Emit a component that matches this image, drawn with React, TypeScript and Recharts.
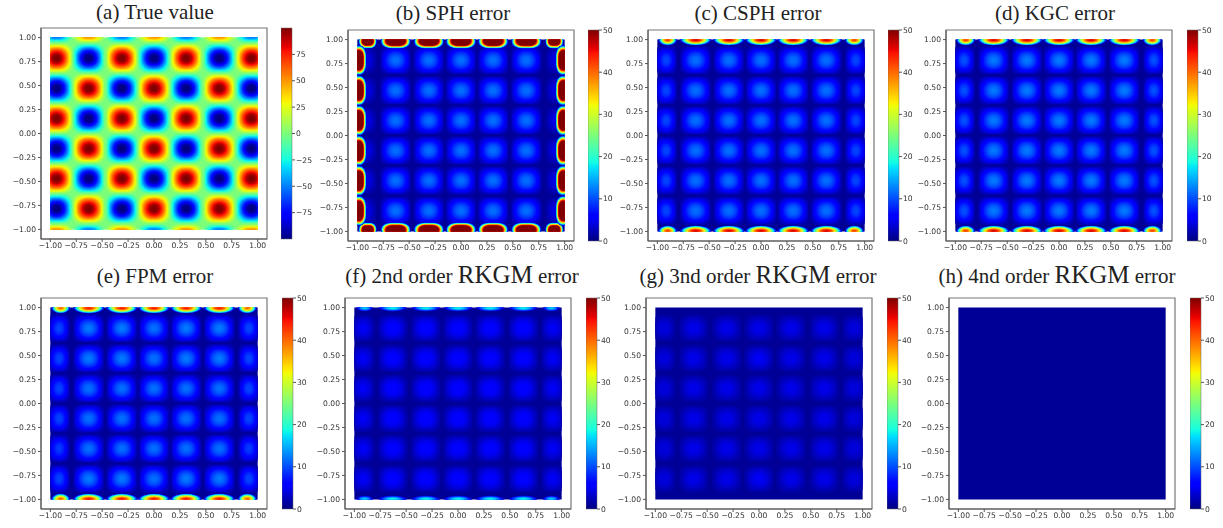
import React from "react";
import {
  ScatterChart,
  Scatter,
  XAxis,
  YAxis,
  ReferenceArea,
  BarChart,
  Bar,
} from "recharts";

// blob centres
const columnCentres = [-0.94, -0.63, -0.31, 0, 0.31, 0.63, 0.94];
const errorColumns = [-0.915, -0.63, -0.31, 0, 0.31, 0.63, 0.915];
const rowCentres = [0.785, 0.47, 0.157, -0.157, -0.47, -0.785];
const edgeColumns = [-0.9, -0.63, -0.31, 0, 0.31, 0.63, 0.9];
const outsideRows = [1.1, -1.1];

const axisTicks = [-1, -0.75, -0.5, -0.25, 0, 0.25, 0.5, 0.75, 1];
const trueTicks = [-75, -50, -25, 0, 25, 50, 75];
const errorTicks = [0, 10, 20, 30, 40, 50];

const truePeaks = [
  [-106, 106, -106, 106, -106, 106, -106],
  [106, -106, 106, -106, 106, -106, 106],
  [-106, 106, -106, 106, -106, 106, -106],
  [106, -106, 106, -106, 106, -106, 106],
  [-106, 106, -106, 106, -106, 106, -106],
  [106, -106, 106, -106, 106, -106, 106],
  [-106, 106, -106, 106, -106, 106, -106],
  [106, -106, 106, -106, 106, -106, 106],
];
const sphPeaks = [
  [5, 12, 12, 12, 12, 12, 5],
  [5, 12, 12, 12, 12, 12, 5],
  [5, 12, 12, 12, 12, 12, 5],
  [5, 12, 12, 12, 12, 12, 5],
  [5, 12, 12, 12, 12, 12, 5],
  [5, 12, 12, 12, 12, 12, 5],
];
const csphPeaks = [
  [10, 12, 12, 12, 12, 12, 10],
  [10, 12, 12, 12, 12, 12, 10],
  [10, 12, 12, 12, 12, 12, 10],
  [10, 12, 12, 12, 12, 12, 10],
  [10, 12, 12, 12, 12, 12, 10],
  [10, 12, 12, 12, 12, 12, 10],
];
const kgcPeaks = [
  [10.5, 12.5, 12.5, 12.5, 12.5, 12.5, 10.5],
  [10.5, 12.5, 12.5, 12.5, 12.5, 12.5, 10.5],
  [10.5, 12.5, 12.5, 12.5, 12.5, 12.5, 10.5],
  [10.5, 12.5, 12.5, 12.5, 12.5, 12.5, 10.5],
  [10.5, 12.5, 12.5, 12.5, 12.5, 12.5, 10.5],
  [10.5, 12.5, 12.5, 12.5, 12.5, 12.5, 10.5],
];
const fpmPeaks = [
  [10, 12.5, 12.5, 12, 12.5, 12.5, 10],
  [10, 12.5, 12.5, 12, 12.5, 12.5, 10],
  [10, 12, 12, 12, 12, 12, 10],
  [10, 12, 12, 12, 12, 12, 10],
  [9.5, 12, 12, 12, 12, 12, 9.5],
  [10, 12.5, 12.5, 12, 12.5, 12.5, 10],
];
const rk2Peaks = [
  [5.5, 6.5, 6.5, 6.5, 6.5, 6.5, 5.5],
  [5.5, 6.5, 6.5, 6.5, 6.5, 6.5, 5.5],
  [5.5, 6.5, 6.5, 6.5, 6.5, 6.5, 5.5],
  [5.5, 6.5, 6.5, 6.5, 6.5, 6.5, 5.5],
  [5.5, 6.5, 6.5, 6.5, 6.5, 6.5, 5.5],
  [5.5, 6.5, 6.5, 6.5, 6.5, 6.5, 5.5],
];
const rk3Peaks = [
  [4.5, 5, 5, 5, 5, 5, 4.5],
  [4.5, 5, 5, 5.5, 5, 5, 4.5],
  [4.5, 5, 5, 5, 5, 5, 4.5],
  [4.5, 5, 5, 5, 5, 5, 4.5],
  [4.5, 5, 5, 5, 5, 5, 4.5],
  [4.5, 5, 5, 5.5, 5, 5, 4.5],
];
const rk4Peaks = [
  [1.5, 1.5, 1.5, 1.5, 1.5, 1.5, 1.5],
  [1.5, 1.5, 1.5, 1.5, 1.5, 1.5, 1.5],
  [1.5, 1.5, 1.5, 1.5, 1.5, 1.5, 1.5],
  [1.5, 1.5, 1.5, 1.5, 1.5, 1.5, 1.5],
  [1.5, 1.5, 1.5, 1.5, 1.5, 1.5, 1.5],
  [1.5, 1.5, 1.5, 1.5, 1.5, 1.5, 1.5],
];

// peak error on the boundary
const sphEdge = [80, 86, 86, 86, 86, 86, 80];
const csphEdge = [44, 48, 48, 48, 48, 48, 44];
const kgcEdge = [44, 48, 48, 48, 48, 48, 44];
const fpmEdge = [42, 46, 46, 46, 46, 46, 42];
const rk2Edge = [18, 20, 20, 20, 20, 20, 18];
const sphSide = [86, 86, 86, 86, 86, 86];

const JET_STOPS = [0, 0.11, 0.125, 0.34, 0.35, 0.375, 0.64, 0.65, 0.66, 0.89, 0.91, 1];

const lerp = (t: number, pts: number[][]) => {
  for (let i = 1; i < pts.length; i++) {
    if (t <= pts[i][0]) {
      const [a, va] = pts[i - 1];
      const [b, vb] = pts[i];
      return va + ((t - a) / (b - a)) * (vb - va);
    }
  }
  return pts[pts.length - 1][1];
};

const jet = (t0: number) => {
  const t = Math.max(0, Math.min(1, t0));
  const r = lerp(t, [[0, 0], [0.35, 0], [0.66, 1], [0.89, 1], [1, 0.5]]);
  const g = lerp(t, [[0, 0], [0.125, 0], [0.375, 1], [0.64, 1], [0.91, 0], [1, 0]]);
  const b = lerp(t, [[0, 0.5], [0.11, 1], [0.34, 1], [0.65, 0], [1, 0]]);
  return `rgb(${Math.round(r * 255)},${Math.round(g * 255)},${Math.round(b * 255)})`;
};

const FRAME_W = 226;
const FRAME_H = 211;
const XLIM = 1.09;
const YLIM = 1.1;
const UX = FRAME_W / (2 * XLIM);
const UY = FRAME_H / (2 * YLIM);
const HALF_CELL = 0.157;
const AXIS_W = 40;

const fmt = (v: number) => v.toFixed(2).replace("-", "\u2212");

const clipFor = (id: string, p: any) => {
  const { cx, cy, payload } = p;
  return (
    <clipPath id={id}>
      <rect
        x={cx - (payload.x + 1) * UX}
        y={cy - (1 - payload.y) * UY}
        width={2 * UX}
        height={2 * UY}
      />
    </clipPath>
  );
};

const levels = (base: number, peak: number, step: number) => {
  const out: number[] = [];
  for (let v = base + step; v < peak; v += step) out.push(v);
  return out;
};

// squarish contours of a cos*cos bump
const Blob = (p: any) => {
  const { cx, cy, payload, panelId, base, vmin, vmax, step, outerScale } = p;
  const peak = Math.abs(payload.value);
  const sign = payload.value < 0 ? -1 : 1;
  const id = `${panelId}-b-${payload.x}-${payload.y}`;
  const xs = Math.abs(payload.x) > 0.9 ? outerScale : 1;
  const hx = HALF_CELL * UX * xs;
  const hy = HALF_CELL * UY;
  return (
    <g clipPath={`url(#${id})`}>
      <defs>{clipFor(id, p)}</defs>
      {levels(base, peak, step).map((v) => {
        const f = (v - base) / (peak - base);
        const s = (Math.acos(f) * 2) / Math.PI;
        const d = (Math.SQRT2 * Math.acos(Math.sqrt(f)) * 2) / Math.PI;
        const r = Math.max(0, Math.min(s, (Math.SQRT2 * s - d) / (Math.SQRT2 - 1)));
        return (
          <rect
            key={v}
            x={cx - s * hx}
            y={cy - s * hy}
            width={2 * s * hx}
            height={2 * s * hy}
            rx={r * hx}
            ry={r * hy}
            fill={jet((sign * v - vmin) / (vmax - vmin))}
          />
        );
      })}
    </g>
  );
};

// half bumps hugging the boundary, corner 1 is a plain ellipse
const EdgeBlob = (p: any) => {
  const { cx, cy, payload, panelId, base, vmin, vmax, along, depth, corner } = p;
  const id = `${panelId}-e-${payload.x}-${payload.y}`;
  const horizontal = Math.abs(payload.y) === 1;
  const shrink = horizontal && Math.abs(payload.x) > 0.8 ? 0.6 : 1;
  const rx = horizontal ? along * shrink : depth;
  const ry = horizontal ? depth : along;
  const top = Math.min(payload.value, 52);
  return (
    <g clipPath={`url(#${id})`}>
      <defs>{clipFor(id, p)}</defs>
      {levels(base, top, 2).map((v) => {
        const s = Math.sqrt(1 - (v - base) / (payload.value - base));
        return (
          <rect
            key={v}
            x={cx - rx * s}
            y={cy - ry * s}
            width={2 * rx * s}
            height={2 * ry * s}
            rx={rx * s * corner}
            ry={ry * s * corner}
            fill={jet((v - vmin) / (vmax - vmin))}
          />
        );
      })}
    </g>
  );
};

const gridBlobs = (columns: number[], rows: number[], peaks: number[][]) =>
  rows.flatMap((y, i) => columns.map((x, j) => ({ x, y, value: peaks[i][j] })));

const edgeBlobs = (values: number[]) =>
  [1, -1].flatMap((y) => edgeColumns.map((x, j) => ({ x, y, value: values[j] })));

const sideBlobs = (values: number[]) =>
  [-1, 1].flatMap((x) => rowCentres.map((y, j) => ({ x, y, value: values[j] })));

const axisTick = { fontSize: 7.6, fill: "#333", fontFamily: "DejaVu Sans" };

const Panel = ({ id, left, top, blobs, edges, base, vmin, vmax, step, outerScale, along, depth, corner }: any) => (
  <div style={{ position: "absolute", left: left - AXIS_W, top: top - 5, filter: "blur(0.55px)" }}>
    <ScatterChart
      width={FRAME_W + AXIS_W + 6}
      height={FRAME_H + 27}
      margin={{ top: 5, right: 6, bottom: 0, left: 0 }}
    >
      <XAxis
        type="number"
        dataKey="x"
        domain={[-XLIM, XLIM]}
        allowDataOverflow
        ticks={axisTicks}
        tickFormatter={fmt}
        tick={axisTick}
        tickSize={3}
        tickMargin={1}
        interval={0}
        stroke="#555"
        height={22}
      />
      <YAxis
        type="number"
        dataKey="y"
        domain={[-YLIM, YLIM]}
        allowDataOverflow
        ticks={axisTicks}
        tickFormatter={fmt}
        tick={axisTick}
        tickSize={3}
        tickMargin={2}
        interval={0}
        stroke="#555"
        width={AXIS_W}
      />
      <ReferenceArea x1={-1} x2={1} y1={-1} y2={1} fill={jet((base - vmin) / (vmax - vmin))} fillOpacity={1} stroke="none" />
      <Scatter
        data={blobs}
        isAnimationActive={false}
        shape={(p: any) => (
          <Blob {...p} panelId={id} base={base} vmin={vmin} vmax={vmax} step={step} outerScale={outerScale} />
        )}
      />
      {edges.length > 0 && (
        <Scatter
          data={edges}
          isAnimationActive={false}
          shape={(p: any) => (
            <EdgeBlob {...p} panelId={id} base={base} vmin={vmin} vmax={vmax} along={along} depth={depth} corner={corner} />
          )}
        />
      )}
      <ReferenceArea x1={-XLIM} x2={XLIM} y1={-YLIM} y2={YLIM} fill="none" stroke="#777" strokeWidth={1.2} />
    </ScatterChart>
  </div>
);

const Colorbar = ({ id, left, top, domain, ticks }: any) => (
  <div style={{ position: "absolute", left, top: top - 5, filter: "blur(0.4px)" }}>
    <BarChart
      width={40}
      height={FRAME_H + 10}
      data={[{ name: "cb", range: domain }]}
      margin={{ top: 5, right: 0, bottom: 5, left: 0 }}
      barCategoryGap={0}
    >
      <defs>
        <linearGradient id={id} x1="0" y1="1" x2="0" y2="0">
          {JET_STOPS.map((s) => (
            <stop key={s} offset={s} stopColor={jet(s)} />
          ))}
        </linearGradient>
      </defs>
      <XAxis dataKey="name" hide />
      <YAxis
        type="number"
        orientation="right"
        domain={domain}
        ticks={ticks}
        interval={0}
        tick={{ ...axisTick, textAnchor: "start" }}
        tickFormatter={(v: number) => String(v).replace("-", "\u2212")}
        tickSize={3}
        tickMargin={1}
        axisLine={false}
        stroke="#555"
        width={29}
      />
      <Bar dataKey="range" fill={`url(#${id})`} isAnimationActive={false} stroke="#666" strokeWidth={0.5} />
    </BarChart>
  </div>
);

const Title = ({ cx, y, children }: any) => (
  <div
    style={{
      position: "absolute",
      left: cx - 160,
      top: y,
      width: 320,
      textAlign: "center",
      fontFamily: "Liberation Serif",
      fontSize: 21,
      lineHeight: "24px",
      color: "#222",
      whiteSpace: "nowrap",
    }}
  >
    {children}
  </div>
);

const Big = ({ children }: any) => <span style={{ fontSize: 25 }}>{children}</span>;

const trueBlobs = gridBlobs(columnCentres, [outsideRows[0], ...rowCentres, outsideRows[1]], truePeaks);

const errorPanels = [
  { id: "b", left: 348, top: 30, cb: 588, peaks: sphPeaks, edges: [...edgeBlobs(sphEdge), ...sideBlobs(sphSide)], along: 15, depth: 9, corner: 0.7, outerScale: 0.7 },
  { id: "c", left: 648, top: 30, cb: 888, peaks: csphPeaks, edges: edgeBlobs(csphEdge), along: 16, depth: 6, corner: 1, outerScale: 0.7 },
  { id: "d", left: 946, top: 30, cb: 1187, peaks: kgcPeaks, edges: edgeBlobs(kgcEdge), along: 16, depth: 6, corner: 1, outerScale: 0.7 },
  { id: "e", left: 41, top: 298, cb: 282, peaks: fpmPeaks, edges: edgeBlobs(fpmEdge), along: 16, depth: 6, corner: 1, outerScale: 0.7 },
  { id: "f", left: 345, top: 298, cb: 586, peaks: rk2Peaks, edges: edgeBlobs(rk2Edge), along: 15, depth: 4, corner: 1, outerScale: 0.8 },
  { id: "g", left: 646, top: 298, cb: 887, peaks: rk3Peaks, edges: [], along: 15, depth: 1, corner: 1, outerScale: 0.8 },
  { id: "h", left: 949, top: 298, cb: 1190, peaks: rk4Peaks, edges: [], along: 15, depth: 1, corner: 1, outerScale: 1 },
];

export default function App() {
  return (
    <div style={{ position: "absolute", left: 0, top: 0, width: 1223, height: 528, background: "#fff", overflow: "hidden" }}>
      <Title cx={155} y={0}>(a) True value</Title>
      <Title cx={453} y={1}>(b) SPH error</Title>
      <Title cx={758} y={1}>(c) CSPH error</Title>
      <Title cx={1055} y={1}>(d) KGC error</Title>
      <Title cx={155} y={264}>(e) FPM error</Title>
      <Title cx={462} y={263}>(f) 2nd order <Big>RKGM</Big> error</Title>
      <Title cx={758} y={263}>(g) 3nd order <Big>RKGM</Big> error</Title>
      <Title cx={1057} y={263}>(h) 4nd order <Big>RKGM</Big> error</Title>

      <Panel id="a" left={41} top={28} blobs={trueBlobs} edges={[]} base={0} vmin={-100} vmax={100} step={6} outerScale={1} along={0} depth={0} corner={1} />
      <Colorbar id="cba" left={281} top={28} domain={[-100, 100]} ticks={trueTicks} />

      {errorPanels.map((p) => (
        <React.Fragment key={p.id}>
          <Panel
            id={p.id}
            left={p.left}
            top={p.top}
            blobs={gridBlobs(errorColumns, rowCentres, p.peaks)}
            edges={p.edges}
            base={1}
            vmin={0}
            vmax={50}
            step={0.7}
            outerScale={p.outerScale}
            along={p.along}
            depth={p.depth}
            corner={p.corner}
          />
          <Colorbar id={`cb${p.id}`} left={p.cb} top={p.top} domain={[0, 50]} ticks={errorTicks} />
        </React.Fragment>
      ))}
    </div>
  );
}
